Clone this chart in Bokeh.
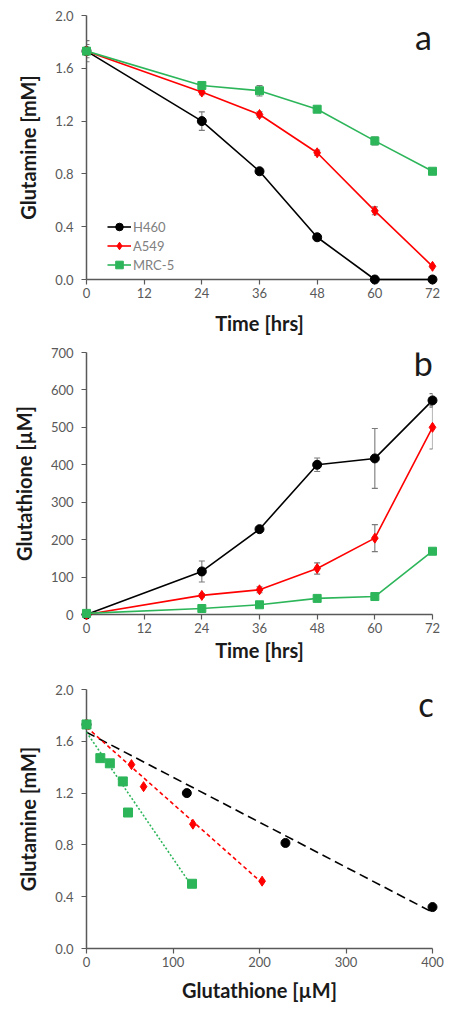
from bokeh.plotting import figure
from bokeh.layouts import column
from bokeh.models import (Range1d, FixedTicker, Whisker, TeeHead, ColumnDataSource,
                          Legend, LegendItem, Label, PrintfTickFormatter)
from bokeh.embed import file_html
from bokeh.resources import INLINE

# ---------------- data ----------------
time_hrs = [0, 24, 36, 48, 60, 72]
time_ticks = [0, 12, 24, 36, 48, 60, 72]

gln_h460 = [1.73, 1.20, 0.82, 0.32, 0.0, 0.0]
gln_a549 = [1.73, 1.42, 1.25, 0.96, 0.52, 0.10]
gln_mrc5 = [1.73, 1.47, 1.43, 1.29, 1.05, 0.82]
gln_err_h460 = [0.08, 0.07, 0.02, 0.02, 0.0, 0.0]
gln_err_a549 = [0.0, 0.02, 0.02, 0.02, 0.03, 0.01]
gln_err_mrc5 = [0.05, 0.02, 0.04, 0.02, 0.03, 0.02]
gln_ticks = [0.0, 0.4, 0.8, 1.2, 1.6, 2.0]

gsh_h460 = [0, 115, 228, 400, 417, 572]
gsh_a549 = [0, 51, 66, 123, 204, 500]
gsh_mrc5 = [3, 16, 26, 43, 48, 169]
gsh_err_h460 = [0, 28, 5, 18, 80, 18]
gsh_err_a549 = [0, 5, 8, 15, 36, 58]
gsh_err_mrc5 = [0, 3, 3, 4, 4, 6]
gsh_ticks = [0, 100, 200, 300, 400, 500, 600, 700]

c_gsh_h460 = [0, 116, 230, 400]
c_gln_h460 = [1.73, 1.20, 0.815, 0.32]
c_gsh_a549 = [0, 52, 66, 123, 203]
c_gln_a549 = [1.73, 1.42, 1.25, 0.96, 0.52]
c_gsh_mrc5 = [0, 16, 27, 42, 48, 122]
c_gln_mrc5 = [1.73, 1.47, 1.43, 1.29, 1.05, 0.50]
fit_x_h460 = [0, 400]
fit_y_h460 = [1.67, 0.28]
fit_x_a549 = [0, 204]
fit_y_a549 = [1.71, 0.50]
fit_x_mrc5 = [0, 122]
fit_y_mrc5 = [1.67, 0.48]
c_x_ticks = [0, 100, 200, 300, 400]

series_names = ["H460", "A549", "MRC-5"]

# ---------------- style ----------------
BLACK = "#000000"
RED = "#FF0000"
GREEN = "#2DB55A"
AXIS = "#595959"
FONT = "Lato"


def make_fig(height, top, bottom, x_range, y_range):
    p = figure(width=444, height=height, x_range=x_range, y_range=y_range,
               output_backend="svg", toolbar_location=None,
               min_border_left=86, min_border_right=12,
               min_border_top=top, min_border_bottom=bottom)
    p.grid.visible = False
    p.outline_line_color = None
    p.background_fill_color = "white"
    p.border_fill_color = "white"
    for ax in p.axis:
        ax.axis_line_color = AXIS
        ax.axis_line_width = 1.5
        ax.major_tick_line_color = AXIS
        ax.major_tick_line_width = 1.2
        ax.major_tick_out = 5
        ax.major_tick_in = 0
        ax.minor_tick_line_color = None
        ax.major_label_text_font = FONT
        ax.major_label_text_font_size = "13px"
        ax.major_label_text_color = AXIS
        ax.axis_label_text_font = FONT
        ax.axis_label_text_font_size = "20px"
        ax.axis_label_text_font_style = "bold"
        ax.axis_label_text_color = "#1a1a1a"
    p.xaxis.major_label_standoff = 3
    p.yaxis.major_label_standoff = 8
    p.yaxis.axis_label_standoff = 12
    return p


def add_err(p, xs, ys, errs):
    xb, lo, hi = [], [], []
    for x, y, e in zip(xs, ys, errs):
        if e > 0:
            xb.append(x)
            lo.append(y - e)
            hi.append(y + e)
    src = ColumnDataSource(dict(x=xb, lower=lo, upper=hi))
    w = Whisker(base="x", lower="lower", upper="upper", source=src,
                line_color="#7a7a7a", line_width=1.1,
                upper_head=TeeHead(size=6, line_color="#7a7a7a", line_width=1.1),
                lower_head=TeeHead(size=6, line_color="#7a7a7a", line_width=1.1))
    p.add_layout(w)


def add_series(p, xs, ys, color, marker, size, line=True):
    rl = None
    if line:
        rl = p.line(xs, ys, line_color=color, line_width=1.6, level="overlay")
    rm = p.scatter(xs, ys, marker=marker, size=size, fill_color=color,
                   line_color=color, level="overlay")
    return rl, rm


def letter(p, text, x, y):
    p.add_layout(Label(x=x, y=y, text=text, text_font=FONT, text_font_size="34px",
                       text_color="#1a1a1a", text_align="center", text_baseline="middle"))


# ---------------- panel a ----------------
pa = make_fig(339, 15, 60, Range1d(0, 72), Range1d(0, 2.0))
pa.xaxis.ticker = FixedTicker(ticks=time_ticks)
pa.yaxis.ticker = FixedTicker(ticks=gln_ticks)
pa.yaxis.formatter = PrintfTickFormatter(format="%.1f")
pa.xaxis.axis_label = "Time [hrs]"
pa.yaxis.axis_label = "Glutamine [mM]"
pa.xaxis.axis_label_standoff = 10
add_err(pa, time_hrs, gln_h460, gln_err_h460)
add_err(pa, time_hrs, gln_a549, gln_err_a549)
add_err(pa, time_hrs, gln_mrc5, gln_err_mrc5)
la1, ma1 = add_series(pa, time_hrs, gln_h460, BLACK, "circle", 9)
la2, ma2 = add_series(pa, time_hrs, gln_a549, RED, "diamond", 10)
la3, ma3 = add_series(pa, time_hrs, gln_mrc5, GREEN, "square", 8)
legend = Legend(items=[LegendItem(label=series_names[0], renderers=[la1, ma1]),
                       LegendItem(label=series_names[1], renderers=[la2, ma2]),
                       LegendItem(label=series_names[2], renderers=[la3, ma3])],
                location=(21, 5), padding=0, margin=0, spacing=0,
                label_height=19, glyph_height=19, glyph_width=24, label_standoff=2,
                label_text_font=FONT, label_text_font_size="13px",
                label_text_color="#808080", background_fill_alpha=0,
                border_line_alpha=0)
pa.add_layout(legend)
letter(pa, "a", 70.1, 1.84)

# ---------------- panel b ----------------
pb = make_fig(326, 13, 51, Range1d(0, 72), Range1d(0, 700))
pb.xaxis.ticker = FixedTicker(ticks=time_ticks)
pb.yaxis.ticker = FixedTicker(ticks=gsh_ticks)
pb.xaxis.axis_label = "Time [hrs]"
pb.yaxis.axis_label = "Glutathione [µM]"
pb.xaxis.axis_label_standoff = 2
add_err(pb, time_hrs, gsh_h460, gsh_err_h460)
add_err(pb, time_hrs, gsh_a549, gsh_err_a549)
add_err(pb, time_hrs, gsh_mrc5, gsh_err_mrc5)
add_series(pb, time_hrs, gsh_h460, BLACK, "circle", 9)
add_series(pb, time_hrs, gsh_a549, RED, "diamond", 10)
add_series(pb, time_hrs, gsh_mrc5, GREEN, "square", 8)
letter(pb, "b", 70.1, 672)

# ---------------- panel c ----------------
pc = make_fig(341, 24, 58, Range1d(0, 400), Range1d(0, 2.0))
pc.xaxis.ticker = FixedTicker(ticks=c_x_ticks)
pc.yaxis.ticker = FixedTicker(ticks=gln_ticks)
pc.yaxis.formatter = PrintfTickFormatter(format="%.1f")
pc.xaxis.axis_label = "Glutathione [µM]"
pc.yaxis.axis_label = "Glutamine [mM]"
pc.xaxis.axis_label_standoff = 8
pc.line(fit_x_h460, fit_y_h460, line_color=BLACK, line_width=1.6, line_dash="9 5", level="overlay")
pc.line(fit_x_a549, fit_y_a549, line_color=RED, line_width=1.6, line_dash="4 3", level="overlay")
pc.line(fit_x_mrc5, fit_y_mrc5, line_color=GREEN, line_width=1.6, line_dash="2 2", level="overlay")
add_series(pc, c_gsh_h460, c_gln_h460, BLACK, "circle", 9, line=False)
add_series(pc, c_gsh_a549, c_gln_a549, RED, "diamond", 10, line=False)
add_series(pc, c_gsh_mrc5, c_gln_mrc5, GREEN, "square", 9, line=False)
letter(pc, "c", 393, 1.89)

layout = column(pa, pb, pc, spacing=0)
open("out.html", "w").write(file_html(layout, INLINE))
